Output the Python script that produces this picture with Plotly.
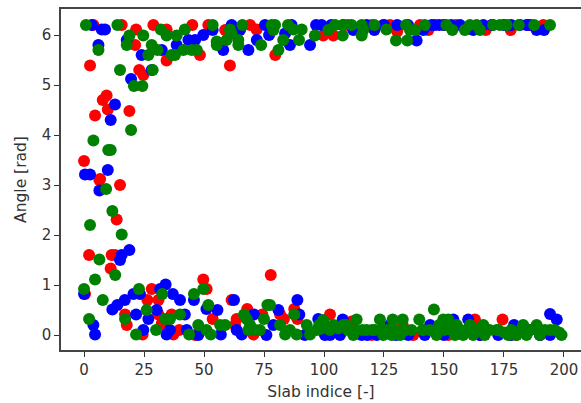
import plotly.graph_objects as go

red_x = [3.9,15.7,21.7,28.9,34.4,45.1,51.8,58.8,69.2,71.9,21.3,48.3,34.4,2.5,60.8,79.7,23,24.7,9.4,7.8,9.9,4.6,18.9,0,6.7,15,6.4,13.6,2.1,11.5,12.9,11.1,
         .4,28.2,26.4,31,49.7,51.1,77.8,17.1,17.8,31,32.4,36.5,39.7,37.2,53.6,61.5,63.6,62.9,68,74.3,70.6,81.7,83.3,87.6,88.9,24.4,46.3,35,
         99.7,103.9,124.7,127.5,130.5,143.5,167.4,177.8,191.4,102.5,132.8,162.9,174.4,151.8,137.2,119.8,111.5,
         110,120,140,150,155,170,185,165,180,190]
red_y = [6.2,6.2,6.11,6.2,6.11,6.2,6.2,6.1,6.2,6.11,5.8,5.6,5.49,5.39,5.39,5.6,5.3,5.2,4.79,4.7,4.51,4.39,4.48,3.48,3.12,3.0,3.1,2.31,1.6,1.6,1.6,1.33,
         .82,.92,.7,.7,1.11,.92,1.2,.41,.2,.41,.23,.41,.1,.01,.32,.7,.32,.2,.52,.41,.01,.41,.32,.52,.32,.01,0,.1,
         5.99,5.99,6.2,6.2,6.07,6.1,6.1,6.1,6.2,.41,.2,.31,.31,0,0,0,.27,
         6.2,6.2,6.2,6.2,6.2,6.2,6.2,0,0,0]

blue_x = [3.2,8.75,7.4,6,17.8,24,32.4,38.6,43.5,46.3,49.7,53.6,61.5,58,68.5,72,75.4,77.1,83.8,86.5,85.8,96.7,94.2,65,28.2,19.6,12.9,11.1,9.9,.4,2.5,6.4,
          18.9,15.7,15,0,17,13.9,11.8,20.6,23.3,3.9,4.6,21.7,24.7,26.8,30.3,31.7,34,37,40,42,42.8,35.8,34.4,47.6,45.8,51,55.6,57,62.5,63.6,65.7,70.8,76,78.9,81,88.9,89.7,97.6,92,
          99,112.2,117.8,121,130.5,138.6,141.4,146.2,156.7,162.2,166.4,184.4,188.6,191.7,181.7,144.9,
          107.8,106.7,100.4,102.5,127.5,115.7,135.1,142,144.2,151.8,153.9,160.1,172.6,179.2,194.2,197,194.2,185.8,
          103,108,125,135,148,150,153,170,175,178,186,118,122,130,150,165,178,190]
blue_y = [6.2,6.11,6.11,5.8,5.9,5.6,5.7,5.8,5.9,5.9,6,6.1,6.2,5.7,5.7,5.9,6.2,6,6.03,6.2,5.8,6.2,5.8,6.1,5.3,5.12,4.61,4.3,3.3,3.21,3.21,2.89,
          1.7,1.6,1.5,.82,.7,.6,.51,.82,.82,.2,.01,.41,.1,.32,.5,.92,1.01,.82,.7,.41,.1,.1,.01,0,.7,.52,.5,.01,.7,.1,.01,.41,0,.2,.5,.7,.41,.32,0,
          6.2,6.1,6.2,6.1,6.2,5.89,6.1,6.2,6.2,6.1,6.2,6.2,6.1,6.1,6.2,6.2,
          .31,0,0,0,.2,0,0,0,.2,.13,.31,.31,0,.2,.42,.31,0,.1,
          6.2,6.2,6.2,6.2,6.2,6.2,6.2,6.2,6.2,6.2,6.2,0,0,0,0,0,0,0]

green_x = [.8,13.9,18.9,17.8,24.7,6,28.2,30.6,26.8,32,34.4,38.6,42,36.5,37.9,41.4,44.9,47,53.6,55.3,55.3,59.4,60.8,61.5,64.3,64.3,66,73.8,78.2,79.6,78.9,83,81,85,87.2,90.7,89.6,96.2,
           15,28.6,20.8,24.3,19.6,3.9,10.1,11.1,9.2,11.8,2.5,15.7,6.4,13,4.6,0,7.8,2.1,22.9,32.6,26.1,17.1,21.7,30,33.8,35.8,40,43.8,45.8,49.7,51.8,47.6,51,52.8,56.7,58.8,
           66.7,67.8,69.2,68.5,71.3,73.3,75,76.4,77.5,81.7,83.8,85.8,88.6,87.6,92.8,94.2,97,
           101.8,104.6,108,111.5,107.8,115.7,115.7,116.4,121,126,134.2,135.8,137.9,142,130,134.7,151,153.5,158.7,160.8,163.6,165,170.5,173.3,176.1,181.2,187.6,194.2,
           99.7,99,102.5,106,113.6,109.4,112.2,117.8,121.2,123.3,124.7,128.6,128.2,131.7,132.8,136.5,139.7,141.4,145.8,146.9,146.9,149.7,151.8,155.3,154.6,158,160.8,162.2,166.4,167,172.6,176.8,180.3,183,184.4,188.6,190,194.2,196.2,199,
           110,113,120,124,127,130,144,148,153,157,164,169,178,182,186,190,98,100,104,108,
           125,134,141,150,160,172,175,192,198,116]
green_y = [6.2,6.2,5.99,5.8,5.99,5.7,5.8,5.7,5.6,6.11,5.99,5.99,6.11,5.6,5.6,5.7,5.7,5.7,6.2,5.87,5.8,5.9,6.11,6.03,5.9,5.8,6.2,5.8,6.2,6.2,6.1,5.9,5.7,6.2,6.11,6.11,5.9,5.99,
           5.3,5.3,4.98,4.98,4.1,3.89,3.7,3.7,2.92,2.48,2.2,2.01,1.51,1.2,1.11,.92,.7,.32,.92,.82,.5,.32,.01,.1,.32,.32,.41,.01,.82,.92,.6,.2,.1,.01,.2,.2,
           .41,.32,.2,.1,.1,.1,.32,.6,.6,.2,.01,.1,.01,.41,.2,.01,.1,
           6.1,6.2,6.2,6.2,5.99,6.2,5.99,6.1,6.2,6.11,6.2,6.1,6.1,6.2,5.89,5.89,6.2,6.1,6.1,6.2,6.2,6.1,6.2,6.2,6.2,6.2,6.2,6.2,
           .3,.13,.1,.13,.31,.2,0,.1,.1,.31,0,.31,0,0,.31,.1,.31,.1,.51,.1,0,.31,.31,.2,0,0,.2,0,.2,0,.1,0,0,.2,0,.2,0,.1,.1,0,
           .1,.1,.1,.1,.1,.1,.1,.2,.1,.1,.1,.1,.1,.1,.1,.1,.2,.2,.2,.2,
           .1,.1,.1,.1,.1,.1,.05,.1,.05,.1]

x_ticks = [0, 25, 50, 75, 100, 125, 150, 175, 200]
y_ticks = [0, 1, 2, 3, 4, 5, 6]
series = [(red_x, red_y, "red"), (blue_x, blue_y, "blue"), (green_x, green_y, "green")]

fig = go.Figure()
for xs, ys, color in series:
    fig.add_trace(go.Scatter(x=xs, y=ys, mode="markers",
                             marker=dict(color=color, size=12, line=dict(width=0)),
                             showlegend=False, hoverinfo="skip"))

axis_common = dict(showgrid=False, zeroline=False, showline=True, linecolor="#444444", linewidth=1.5,
                   ticks="outside", ticklen=5, tickwidth=1, tickcolor="#333333",
                   tickfont=dict(family="DejaVu Sans", size=15, color="#333333"))
title_font = dict(family="DejaVu Sans", size=15.5, color="#333333")
fig.update_xaxes(range=[-9.6, 207.1], tickvals=x_ticks, mirror=True, **axis_common,
                 title=dict(text="Slab indice [-]", font=title_font, standoff=8))
fig.update_yaxes(range=[-0.3, 6.52], tickvals=y_ticks, **axis_common,
                 title=dict(text="Angle [rad]", font=title_font, standoff=11))
fig.update_layout(width=581, height=403, margin=dict(l=61, r=0, t=9, b=53, autoexpand=False),
                  paper_bgcolor="white", plot_bgcolor="white", hovermode=False)
fig.write_html("out.html", config={"displayModeBar": False},
               post_script="document.body.style.margin='0';document.body.style.overflow='hidden';")
